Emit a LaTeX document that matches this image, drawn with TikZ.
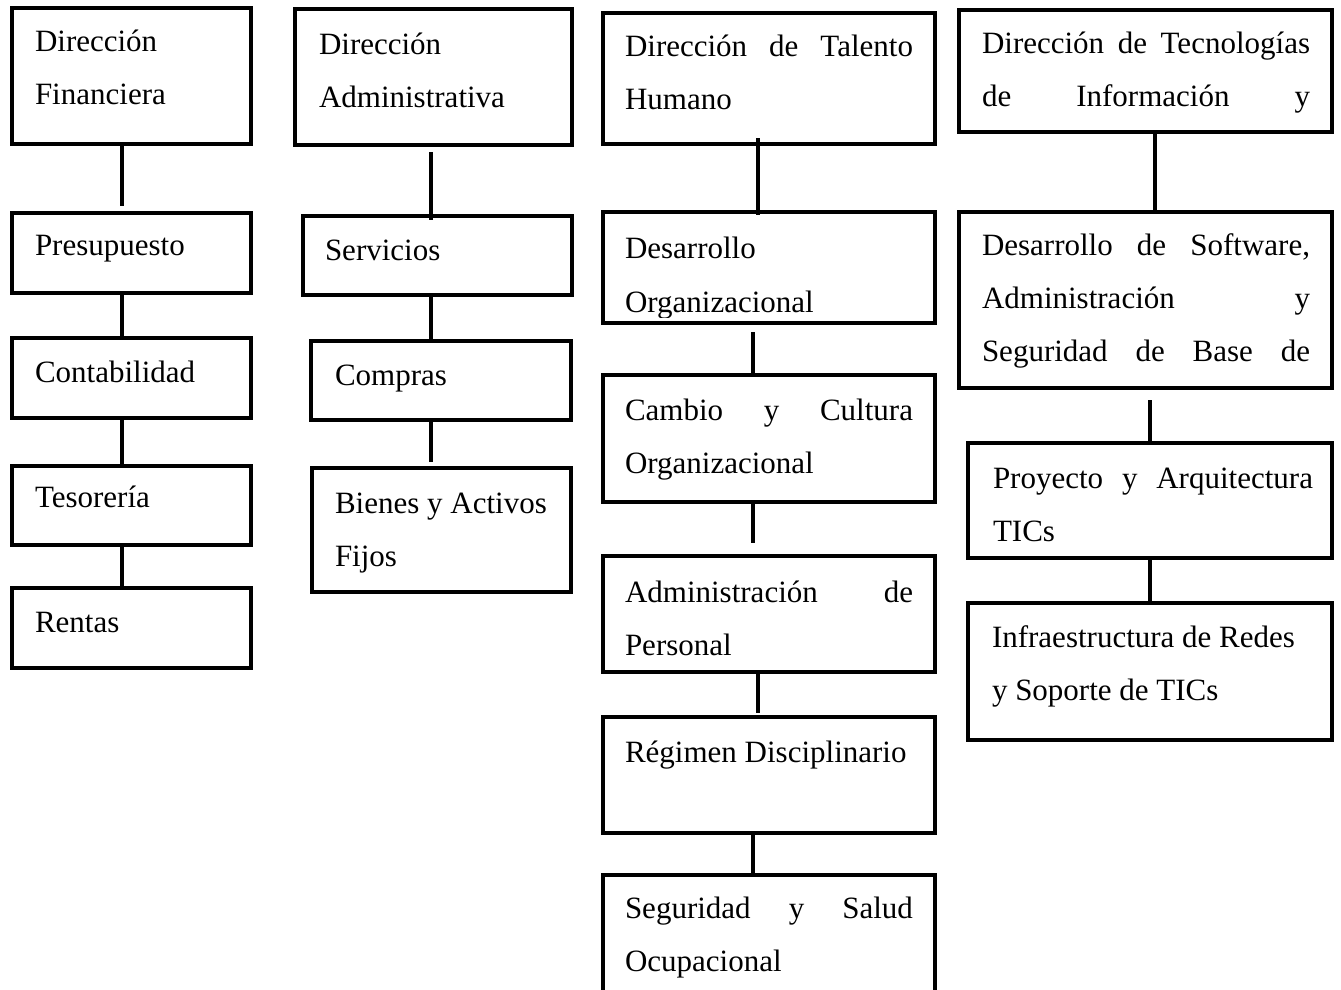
\documentclass[tikz,border=0pt]{standalone}
\usepackage{fontspec}
\setmainfont{Liberation Serif}
\begin{document}
\begin{tikzpicture}[x=1pt,y=-1pt,
  box/.style={draw, line width=4.5pt, rectangle, inner sep=0pt, outer sep=0pt},
  lbl/.style={anchor=base west, inner sep=0pt, outer sep=0pt, font=\fontsize{31}{53}\selectfont},
  conn/.style={line width=4.5pt}]
\useasboundingbox (0,0) rectangle (1341,990);
% ---------- texts ----------
\node[lbl] (tf0) at (35,52) {\parbox[t]{216pt}{Dirección\\Financiera}};
\node[lbl] (tf1) at (35,255) {\parbox[t]{216pt}{Presupuesto}};
\node[lbl] (tf2) at (35,382) {\parbox[t]{216pt}{Contabilidad}};
\node[lbl] (tf3) at (35,507) {\parbox[t]{216pt}{Tesorería}};
\node[lbl] (tf4) at (35,632) {\parbox[t]{216pt}{Rentas}};
%
\node[lbl] (ta0) at (319,55) {\parbox[t]{250pt}{Dirección\\Administrativa}};
\node[lbl] (ta1) at (325,260) {\parbox[t]{240pt}{Servicios}};
\node[lbl] (ta2) at (335,385) {\parbox[t]{230pt}{Compras}};
\node[lbl] (ta3) at (335,513) {\parbox[t]{230pt}{Bienes y Activos\\Fijos}};
%
\node[lbl] (th0) at (625,57) {\parbox[t]{288pt}{Dirección\hfill de\hfill Talento\\Humano}};
\begin{scope}
\clip (603,212) rectangle (935,317);
\node[lbl] (th1) at (625,258) {\parbox[t]{288pt}{\baselineskip=54pt Desarrollo\\Organizacional}};
\end{scope}
\node[lbl] (th2) at (625,420) {\parbox[t]{288pt}{Cambio\hfill y\hfill Cultura\\Organizacional}};
\node[lbl] (th3) at (625,602) {\parbox[t]{288pt}{Administración\hfill de\\Personal}};
\node[lbl] (th4) at (625,762) {\parbox[t]{288pt}{Régimen Disciplinario}};
\node[lbl] (th5) at (625,918) {\parbox[t]{288pt}{Seguridad\hfill y\hfill Salud\\Ocupacional}};
%
\node[lbl] (tt0) at (982,53) {\parbox[t]{328pt}{Dirección\hfill de\hfill Tecnologías\\de\hfill Información\hfill y}};
\node[lbl] (tt1) at (982,255) {\parbox[t]{328pt}{Desarrollo\hfill de\hfill Software,\\Administración\hfill y\\Seguridad\hfill de\hfill Base\hfill de}};
\node[lbl] (tt2) at (993,488) {\parbox[t]{320pt}{Proyecto\hfill y\hfill Arquitectura\\TICs}};
\node[lbl] (tt3) at (992,647) {\parbox[t]{320pt}{Infraestructura de Redes\\y Soporte de TICs}};
% ---------- boxes ----------
\node[box, minimum width=239pt, minimum height=136pt] (f0) at (131.5,76) {};
\node[box, minimum width=239pt, minimum height=80pt] (f1) at (131.5,253) {};
\node[box, minimum width=239pt, minimum height=80pt] (f2) at (131.5,378) {};
\node[box, minimum width=239pt, minimum height=79pt] (f3) at (131.5,505.5) {};
\node[box, minimum width=239pt, minimum height=80pt] (f4) at (131.5,628) {};
%
\node[box, minimum width=277pt, minimum height=136pt] (a0) at (433.5,77) {};
\node[box, minimum width=269pt, minimum height=79pt] (a1) at (437.5,255.5) {};
\node[box, minimum width=260pt, minimum height=79pt] (a2) at (441,380.5) {};
\node[box, minimum width=259pt, minimum height=124pt] (a3) at (441.5,530) {};
%
\node[box, minimum width=332pt, minimum height=131pt] (h0) at (769,78.5) {};
\node[box, minimum width=332pt, minimum height=111pt] (h1) at (769,267.5) {};
\node[box, minimum width=332pt, minimum height=127pt] (h2) at (769,438.5) {};
\node[box, minimum width=332pt, minimum height=116pt] (h3) at (769,614) {};
\node[box, minimum width=332pt, minimum height=116pt] (h4) at (769,775) {};
\node[box, minimum width=332pt, minimum height=135pt] (h5) at (769,942.5) {};
%
\node[box, minimum width=373pt, minimum height=122pt] (t0) at (1145.5,71) {};
\node[box, minimum width=373pt, minimum height=176pt] (t1) at (1145.5,300) {};
\node[box, minimum width=364pt, minimum height=115pt] (t2) at (1150,500.5) {};
\node[box, minimum width=364pt, minimum height=137pt] (t3) at (1150,671.5) {};
% ---------- connector columns ----------
\coordinate (xa) at (122,0);
\coordinate (xb) at (431,0);
\coordinate (xc) at (758,0);
\coordinate (xd) at (753,0);
\coordinate (xe) at (1155,0);
\coordinate (xf) at (1150,0);
% ---------- connectors ----------
\draw[conn, shorten >=7pt] (f0.south -| xa) -- (f1.north -| xa);
\draw[conn] (f1.south -| xa) -- (f2.north -| xa);
\draw[conn] (f2.south -| xa) -- (f3.north -| xa);
\draw[conn] (f3.south -| xa) -- (f4.north -| xa);
%
\draw[conn, shorten <=7pt, shorten >=-4pt] (a0.south -| xb) -- (a1.north -| xb);
\draw[conn] (a1.south -| xb) -- (a2.north -| xb);
\draw[conn, shorten >=6pt] (a2.south -| xb) -- (a3.north -| xb);
%
\draw[conn, shorten <=-6pt, shorten >=-3pt] (h0.south -| xc) -- (h1.north -| xc);
\draw[conn, shorten <=9pt, shorten >=2pt] (h1.south -| xd) -- (h2.north -| xd);
\draw[conn, shorten >=13pt] (h2.south -| xd) -- (h3.north -| xd);
\draw[conn, shorten >=4pt] (h3.south -| xc) -- (h4.north -| xc);
\draw[conn] (h4.south -| xd) -- (h5.north -| xd);
%
\draw[conn] (t0.south -| xe) -- (t1.north -| xe);
\draw[conn, shorten <=12pt] (t1.south -| xf) -- (t2.north -| xf);
\draw[conn] (t2.south -| xf) -- (t3.north -| xf);
\end{tikzpicture}
\end{document}
